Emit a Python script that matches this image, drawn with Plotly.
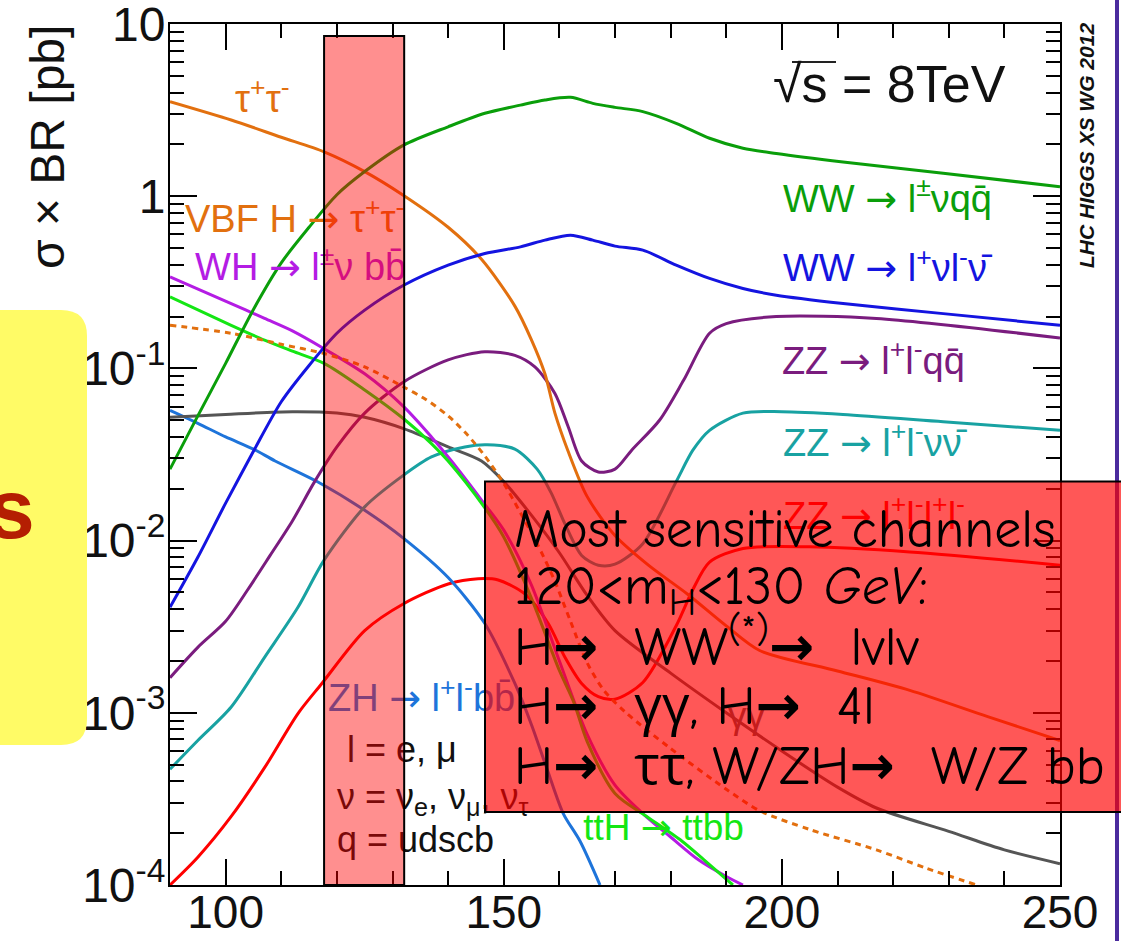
import plotly.graph_objects as go

# ---------------- data (sigma x BR in pb vs m_H in GeV) ----------------
mass_tautau = [90, 101, 110, 117.7, 125, 132, 140, 146, 152, 155, 157.4, 159.2, 161.5, 165, 170, 176, 183, 190, 196, 210, 223, 237, 250]
xs_tautau = [3.54, 2.77, 2.2, 1.81, 1.39, 1.01, 0.66, 0.43, 0.23, 0.146, 0.093, 0.055, 0.0335, 0.018, 0.0107, 7.2e-3, 4.9e-3, 3.2e-3, 2.3e-3, 1.75e-3, 1.35e-3, 9.5e-4, 6.9e-4]

mass_vbf = [90, 101, 110, 117.7, 125, 132, 136, 140, 143.5, 146.6, 150, 153, 156, 159, 162, 165, 168, 172, 180, 190, 196, 205, 217, 226, 235]
xs_vbf_tautau = [0.178, 0.16, 0.138, 0.122, 0.102, 0.078, 0.066, 0.053, 0.041, 0.031, 0.0215, 0.0145, 9.6e-3, 6.0e-3, 3.4e-3, 1.95e-3, 1.35e-3, 1.0e-3, 6.2e-4, 3.6e-4, 2.7e-4, 2.1e-4, 1.6e-4, 1.25e-4, 1.0e-4]

mass_ww = [90, 95, 100, 105, 110, 115, 120, 125, 132, 140, 146.6, 153, 157.4, 162, 166, 170, 175, 181, 187, 193, 199, 211, 229, 250]
xs_ww_lvqq = [0.026, 0.053, 0.107, 0.22, 0.41, 0.66, 1.02, 1.39, 1.98, 2.53, 3.03, 3.38, 3.62, 3.75, 3.46, 3.28, 3.1, 2.65, 2.17, 1.9, 1.77, 1.58, 1.36, 1.135]
xs_ww_lvlv = [4.1e-3, 8.0e-3, 0.0165, 0.033, 0.064, 0.104, 0.16, 0.218, 0.304, 0.398, 0.465, 0.508, 0.556, 0.594, 0.556, 0.513, 0.486, 0.398, 0.333, 0.291, 0.266, 0.238, 0.208, 0.178]

mass_zz_llqq = [90, 95, 100, 104, 108, 112, 116, 120, 125, 132, 140, 146.6, 152, 155.6, 159.2, 161.6, 164, 167, 170, 173, 178, 182.3, 187, 190, 199, 217, 250]
xs_zz_llqq = [1.6e-3, 2.4e-3, 3.4e-3, 5.2e-3, 8.2e-3, 0.013, 0.022, 0.035, 0.055, 0.0835, 0.112, 0.125, 0.119, 0.102, 0.0715, 0.0457, 0.029, 0.025, 0.026, 0.0335, 0.05, 0.085, 0.16, 0.182, 0.2, 0.195, 0.15]

mass_zz_llvv = [90, 95, 101, 107, 113, 117.7, 125, 132, 137, 143, 147, 152, 156, 158.5, 161, 164, 167, 170, 175, 181, 184, 187, 193, 200, 211, 229, 250]
xs_zz_llvv = [4.7e-4, 6.9e-4, 1.08e-3, 2.1e-3, 4.1e-3, 7.7e-3, 0.0157, 0.024, 0.0306, 0.035, 0.036, 0.034, 0.026, 0.019, 0.0125, 8.2e-3, 7.2e-3, 7.3e-3, 9.6e-3, 0.022, 0.0335, 0.0437, 0.055, 0.056, 0.054, 0.049, 0.0437]

mass_zz_4l = [90, 95, 101, 107, 113, 117.3, 125, 132, 140, 145.4, 149, 153.8, 158, 161, 164, 167, 170, 175, 181, 184, 187, 193, 205, 223, 250]
xs_zz_4l = [1.0e-4, 1.45e-4, 2.5e-4, 4.8e-4, 9.9e-4, 1.48e-3, 3.0e-3, 4.3e-3, 5.6e-3, 6.0e-3, 5.9e-3, 4.9e-3, 3.3e-3, 2.1e-3, 1.48e-3, 1.24e-3, 1.2e-3, 1.5e-3, 3.2e-3, 5.2e-3, 7.5e-3, 9.0e-3, 9.2e-3, 8.6e-3, 7.2e-3]

mass_gamgam = [90, 100, 112, 120, 125, 132, 140, 146, 150, 155, 160, 165, 170, 180, 190, 200, 210, 217, 230, 240, 250]
xs_gamgam = [0.052, 0.054, 0.056, 0.055, 0.052, 0.0447, 0.035, 0.029, 0.022, 0.014, 8.5e-3, 4.8e-3, 3.0e-3, 1.7e-3, 1.0e-3, 6.0e-4, 3.7e-4, 2.8e-4, 2.05e-4, 1.6e-4, 1.33e-4]

mass_wh = [90, 101, 107, 112, 117.7, 125, 132, 137, 140.6, 146, 150, 155, 160, 165, 170, 175, 180, 185, 190, 193]
xs_wh_lvbb = [0.34, 0.238, 0.195, 0.165, 0.13, 0.093, 0.06, 0.04, 0.029, 0.0172, 0.0115, 5.5e-3, 2.0e-3, 7.5e-4, 3.8e-4, 2.6e-4, 1.9e-4, 1.4e-4, 1.12e-4, 1.0e-4]

mass_zh = [90, 95, 100, 105, 108.9, 116.6, 125, 132, 140, 146.6, 152, 155, 158, 160.7, 163.7, 167.3]
xs_zh_llbb = [0.057, 0.048, 0.04, 0.034, 0.029, 0.0219, 0.015, 0.0103, 6.1e-3, 3.3e-3, 1.48e-3, 8.5e-4, 4.5e-4, 2.6e-4, 1.8e-4, 1.0e-4]

mass_tth = [90, 101, 107, 112, 117.7, 125, 132, 137, 140, 146.6, 150, 155, 160, 162.6, 165, 170, 175.7, 182, 186, 191.2]
xs_tth_ttbb = [0.26, 0.178, 0.146, 0.126, 0.107, 0.075, 0.051, 0.0366, 0.029, 0.0155, 0.0105, 4.6e-3, 1.76e-3, 1.15e-3, 6.8e-4, 3.4e-4, 2.5e-4, 1.8e-4, 1.4e-4, 1.0e-4]

y_tick_vals = [1e-4, 1e-3, 1e-2, 1e-1, 1, 10]
y_tick_text = ["10<sup>-4</sup>", "10<sup>-3</sup>", "10<sup>-2</sup>", "10<sup>-1</sup>", "1", "10"]

# ---------------- style ----------------
C_ORANGE = "#E2700F"
C_GREEN = "#0A9E0A"
C_BLUE = "#1414E0"
C_PURPLE = "#7A1C7E"
C_TEAL = "#18A2A2"
C_RED = "#FF0000"
C_GRAY = "#555555"
C_MAGENTA = "#B41CE4"
C_LBLUE = "#1E74DA"
C_TTH = "#14E614"
FONT = "Liberation Sans, Arial, Helvetica, sans-serif"
BOXFONT = "Comic Sans MS, Comic Neue, Open Sans, sans-serif"
ARR = "<span style='font-family:DejaVu Sans'>→</span>"
BARR = "<span style='font-family:DejaVu Sans;font-weight:bold'>→</span>"

W, H = 1121, 941
ML, MR, MT, MB = 170, 61, 24, 56
PW, PH = W - ML - MR, H - MT - MB


def xp(px):
    return (px - ML) / PW


def yp(py):
    return (H - MB - py) / PH


series = [
    (mass_zz_4l, xs_zz_4l, C_RED, "solid"),
    (mass_zh, xs_zh_llbb, C_LBLUE, "solid"),
    (mass_gamgam, xs_gamgam, C_GRAY, "solid"),
    (mass_zz_llvv, xs_zz_llvv, C_TEAL, "solid"),
    (mass_zz_llqq, xs_zz_llqq, C_PURPLE, "solid"),
    (mass_wh, xs_wh_lvbb, C_MAGENTA, "solid"),
    (mass_tth, xs_tth_ttbb, C_TTH, "solid"),
    (mass_vbf, xs_vbf_tautau, C_ORANGE, "6px,5px"),
    (mass_tautau, xs_tautau, C_ORANGE, "solid"),
    (mass_ww, xs_ww_lvlv, C_BLUE, "solid"),
    (mass_ww, xs_ww_lvqq, C_GREEN, "solid"),
]

fig = go.Figure()
for xs, ys, col, dash in series:
    fig.add_trace(go.Scatter(x=xs, y=ys, mode="lines",
                             line=dict(color=col, width=3, dash=dash, shape="spline", smoothing=0.8),
                             hoverinfo="skip", showlegend=False))

# curve labels (drawn as text traces so the overlays tint them, as in the original)
labels = [
    ("τ<sup>+</sup>τ<sup>-</sup>", 101.7, 3.52, C_ORANGE, 38),
    (f"VBF H {ARR} τ<sup>+</sup>τ<sup>-</sup>", 92.7, 0.708, C_ORANGE, 38),
    (f"WH {ARR} l<sup>±</sup>ν bb\u0304", 94.5, 0.368, C_MAGENTA, 38),
    (f"WW {ARR} l<sup>±</sup>νqq\u0304", 200.2, 0.924, C_GREEN, 38),
    (f"WW {ARR} l<sup>+</sup>νl<sup>-</sup>ν\u0304", 200.2, 0.363, C_BLUE, 38),
    (f"ZZ {ARR} l<sup>+</sup>l<sup>-</sup>qq\u0304", 200.0, 0.105, C_PURPLE, 38),
    (f"ZZ {ARR} l<sup>+</sup>l<sup>-</sup>νν\u0304", 200.2, 0.035, C_TEAL, 38),
    (f"ZZ {ARR} l<sup>+</sup>l<sup>-</sup>l<sup>+</sup>l<sup>-</sup>", 200.2, 0.0132, C_RED, 38),
    (f"ZH {ARR} l<sup>+</sup>l<sup>-</sup>bb\u0304", 118.4, 1.156e-3, C_LBLUE, 38),
    ("l = e, μ", 121.8, 5.85e-4, "#111111", 36),
    ("ν = ν<sub>e</sub>, ν<sub>μ</sub>, ν<sub>τ</sub>", 120.0, 3.12e-4, "#111111", 36),
    ("q = udscb", 120.0, 1.75e-4, "#111111", 36),
    (f"ttH {ARR} ttbb", 164.3, 2.06e-4, C_TTH, 37),
    ("γγ", 190.3, 9.2e-4, C_GRAY, 37),
]
for txt, lx, ly, col, fs in labels:
    fig.add_trace(go.Scatter(x=[lx], y=[ly], mode="text", text=[txt], textposition="middle right",
                             textfont=dict(family=FONT, size=fs, color=col),
                             hoverinfo="skip", showlegend=False, cliponaxis=False))

minor_y = [k * 10 ** e for e in range(-4, 1) for k in range(2, 10)]

fig.update_xaxes(range=[90, 250], tickmode="linear", tick0=100, dtick=50,
                 ticks="inside", ticklen=26, tickwidth=2, tickcolor="black",
                 minor=dict(ticks="inside", tickmode="linear", tick0=90, dtick=10, ticklen=14, tickwidth=2, tickcolor="black", showgrid=False),
                 showline=True, linewidth=2, linecolor="black", mirror="allticks",
                 showgrid=False, zeroline=False, ticklabeloverflow="allow",
                 tickfont=dict(family=FONT, size=46, color="#111111"), ticklabelstandoff=-14)
fig.update_yaxes(type="log", range=[-4, 1], tickmode="array", tickvals=y_tick_vals, ticktext=y_tick_text,
                 ticks="inside", ticklen=27, tickwidth=2, tickcolor="black",
                 minor=dict(ticks="inside", tickmode="array", tickvals=minor_y, ticklen=14, tickwidth=2, tickcolor="black", showgrid=False),
                 showline=True, linewidth=2, linecolor="black", mirror="allticks",
                 showgrid=False, zeroline=False, ticklabeloverflow="allow",
                 tickfont=dict(family=FONT, size=48, color="#111111"), ticklabelstandoff=-7)

# rounded yellow box (slide element), right corners rounded
x0, x1 = xp(-20), xp(87)
yt, yb = yp(310), yp(745)
rx, ry = 26 / PW, 26 / PH
yellow_path = (f"M {x0},{yt} L {x1 - rx},{yt} Q {x1},{yt} {x1},{yt - ry} "
               f"L {x1},{yb + ry} Q {x1},{yb} {x1 - rx},{yb} L {x0},{yb} Z")

shapes = [
    dict(type="path", xref="paper", yref="paper", path=yellow_path,
         fillcolor="#FFFB66", line=dict(width=0), layer="above"),
    dict(type="rect", xref="paper", yref="paper", x0=xp(1115), x1=xp(1119), y0=yp(-5), y1=yp(950),
         fillcolor="#4B2B9E", line=dict(width=0), layer="above"),
    dict(type="rect", xref="x", yref="paper", x0=117.7, x1=132.1, y0=0, y1=yp(36),
         fillcolor="rgba(255,0,0,0.44)", line=dict(color="black", width=2), layer="above"),
    dict(type="rect", xref="paper", yref="paper", x0=xp(485), x1=xp(1130), y0=yp(812), y1=yp(481.5),
         fillcolor="rgba(255,0,0,0.66)", line=dict(color="black", width=2), layer="above"),
    # bar of the square-root sign
    dict(type="line", xref="paper", yref="paper", x0=xp(792), x1=xp(836), y0=yp(62), y1=yp(62),
         line=dict(color="#222222", width=2), layer="above"),
]

box_lines = [
    ("Most sensitive channels", 529),
    ("120&lt;m<sub>H</sub>&lt;130 <i>GeV</i>:", 590),
    (f"H{BARR}  WW<sup>(*)</sup>{BARR}  lvlv", 643),
    (f"H{BARR}  γγ, H{BARR}  4l", 706),
    (f"H{BARR}  ττ, W/ZH{BARR}  W/Z bb", 766),
]

annotations = [
    dict(text="σ × BR [pb]", x=xp(47), y=yp(147), xref="paper", yref="paper", textangle=-90,
         showarrow=False, font=dict(family=FONT, size=48, color="#111111"), xanchor="center", yanchor="middle"),
    dict(text="√s = 8TeV", x=xp(771), y=yp(84), xref="paper", yref="paper", showarrow=False,
         font=dict(family=FONT, size=52, color="#111111"), xanchor="left", yanchor="middle"),
    dict(text="<b><i>LHC HIGGS XS WG 2012</i></b>", x=xp(1087), y=yp(146), xref="paper", yref="paper",
         textangle=-90, showarrow=False, font=dict(family=FONT, size=21, color="#111111"),
         xanchor="center", yanchor="middle"),
    dict(text="<b>s</b>", x=xp(37), y=yp(509), xref="paper", yref="paper", showarrow=False,
         font=dict(family=FONT, size=84, color="#B41E02"), xanchor="right", yanchor="middle"),
]
for txt, cy in box_lines:
    annotations.append(dict(text=txt, x=xp(512), y=yp(cy), xref="paper", yref="paper", showarrow=False,
                            font=dict(family=BOXFONT, size=54, color="black"),
                            xanchor="left", yanchor="middle"))

fig.update_layout(width=W, height=H, margin=dict(l=ML, r=MR, t=MT, b=MB, autoexpand=False),
                  paper_bgcolor="white", plot_bgcolor="white",
                  shapes=shapes, annotations=annotations, showlegend=False)

fig.write_html("out.html", config={"displayModeBar": False},
               post_script="document.body.style.margin='0';")
